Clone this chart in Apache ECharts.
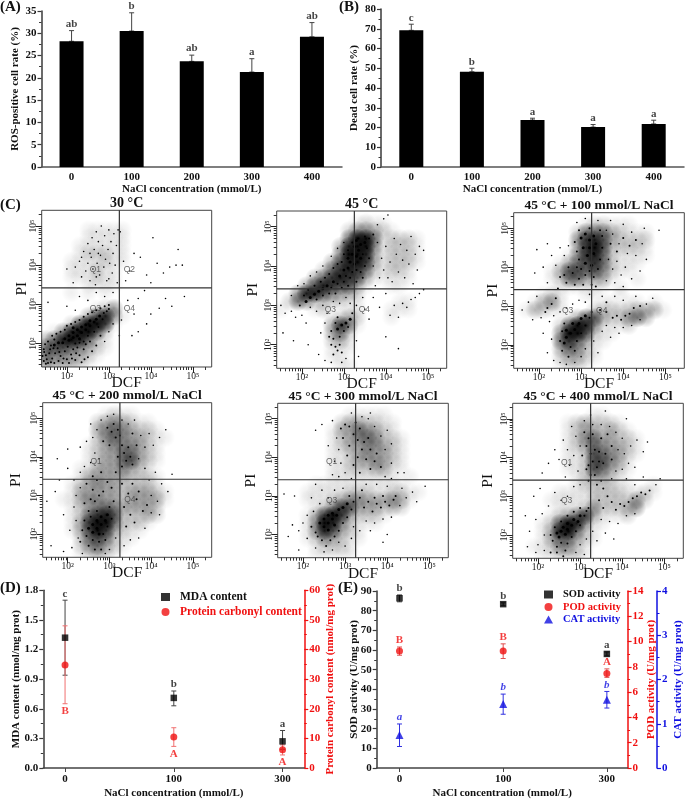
<!DOCTYPE html>
<html><head><meta charset="utf-8">
<style>html,body{margin:0;padding:0;background:#fff}#c{width:685px;height:800px;filter:blur(0.35px)}</style>
<script src="https://cdn.jsdelivr.net/npm/echarts@6/dist/echarts.min.js"></script>
</head><body><div id="c"></div>
<script>
// ---------- Panel A / B ----------
const nacl5 = ['0','100','200','300','400'];
const rosMean = [28.2,30.5,23.7,21.3,29.2];
const rosTop = [30.6,34.6,25.1,24.3,32.4];
const rosLetters = ['ab','b','ab','a','ab'];
const deadMean = [69.2,48.2,23.8,20.2,21.8];
const deadTop = [72.3,50.0,24.7,21.5,23.7];
const deadLetters = ['c','b','a','a','a'];
// ---------- Panel D ----------
const nacl3 = ['0','100','300'];
const mdaMean = [1.32,0.71,0.27], mdaLow = [0.94,0.63,0.19], mdaHigh = [1.70,0.78,0.38];
const mdaLetters = ['c','b','a'];
const pcMean = [34.8,10.5,6.2], pcLow = [21.7,7.3,4.4], pcHigh = [48.0,13.6,7.8];
const pcLetters = ['B','A','A'];
// ---------- Panel E ----------
const sodMean = [86.3,83.3,58.0], sodLow = [84.5,82.5,57.0], sodHigh = [88.0,84.0,59.0];
const sodLetters = ['b','b','a'];
const podMean = [9.26,9.26,7.48], podLow = [8.92,8.66,7.17], podHigh = [9.57,9.82,7.84];
const podLetters = ['B','B','A'];
const catMean = [0.744,1.444,1.54], catLow = [0.486,1.215,1.355], catHigh = [0.995,1.67,1.73];
const catLetters = ['a','b','b'];
// ---------- Panel C: log10(DCF), log10(PI) pairs ----------
const gateX = 3.25, gateY = 3.42;
const decades = [2,3,4,5];
// Estimated event density (0-9): 20 bins across, 20 down, top row first.
const d30 = ["00000000000000000000","00000000000000000000","00000111110000000000","00000111110000000000","00001111110000000000","00001222110000000000","00011112110000000000","00011121100000000000","00011121100000000000","00000111100000000000","00010101000000000000","00000000000000000000","00000012400000000000","00000368410000000000","00026997100000000000","01489962000000000000","35898521000000000000","56654321000000000000","54433210000000000000","43332100000000000000"];
const d45 = ["00000000000000000000","00000000012110000000","00000000244321000000","00000000599512221000","00000003899412221000","00000004998312221000","00000036897312221000","00000257875212210000","00003578763111110000","00036876631001100000","00488643320000000000","02542222110000110000","10001200110001110000","00000012320001000000","00000037510000000000","00000035200000000000","00000023100000000000","00000011100000000000","00000011000000000000","00000001100000000000"];
const d100 = ["00000000000000000000","00000000122111000000","00000002555321110000","00000004786322220000","00000003796222210000","00000014785211110000","00000135675211100000","00001366564211000000","00001255333100100000","00000111111010000000","00012100110010000000","00134100001101101000","01321100022222333100","00000013663224530000","00000269841112000000","00000499621100000000","00000575311000000000","00000354210000000000","00000233210000000000","00000122100000000000"];
const d200 = ["00000000000000000000","00000001211000000000","00000023432110000000","00000034543221000000","00000024543321100000","00000123444321000000","00000123355321000000","00000123356321000000","00001133343210000000","00001333332221000000","00012343322221000000","00013333323332100000","00113443323333100000","00012345433332000000","00012578622232000000","00013799522210000000","00013697321100000000","00002565211000000000","00002453210000000000","00001232100000000000"];
const d300 = ["00000000000000000000","00000000111110000000","00000002332211000000","00000013354321000000","00000012345422100000","00000012334432100000","00000011234332100000","00000011233432100000","00000011222331100000","00000011111111010000","00001111111111100000","00011111222112211000","00011123443334310000","00001247633323200000","00013797322210000000","00014984211100000000","00014863210000000000","00012432110000000000","00001222100000000000","00001111100000000000"];
const d400 = ["00000000000000000000","00000000011000000000","00000012322210000000","00000012332321000000","00000012453322100000","00000012354332100000","00000011265432100000","00000011266431000000","00000011265321000000","00000001233210000000","00000001222211001000","00000111122221121000","00001111122222420000","00000111242223400000","00001235731112000000","00012698411000000000","00013895210000000000","00013553210000000000","00112442100000000000","00011222100000000000"];
const p30Core = [[1.8,2.02],[1.9,2.02],[1.95,2.12],[2.05,2.08],[2.05,2.2],[2.15,2.15],[2.15,2.28],[2.25,2.2],[2.25,2.35],[2.35,2.28],[2.35,2.42],[2.45,2.35],[2.45,2.48],[2.55,2.45],[2.55,2.58],[2.65,2.55],[2.7,2.62],[2.78,2.7],[1.7,1.96],[2.3,2.12],[2.15,2.4]];
const p30Mid = [[1.45,1.55],[1.5,1.7],[1.55,1.5],[1.6,1.85],[1.65,1.62],[1.7,1.5],[1.72,1.75],[1.8,1.55],[1.85,1.68],[1.9,1.5],[1.95,1.8],[2,1.6],[2.05,1.5],[2.1,1.72],[2.15,1.85],[2.2,1.58],[2.3,1.7],[2.35,1.52],[2.4,1.85],[2.5,1.65],[2.6,1.8],[1.45,1.85],[1.48,1.98],[1.55,2.05],[1.62,1.95],[1.7,2.1],[1.42,1.68],[1.78,1.88],[1.52,1.6],[2.25,1.9],[2.45,1.98],[2.7,1.95],[2.55,2.05],[2.8,2.2],[1.65,2.2],[1.75,2.25],[1.85,2.3],[1.95,2.35],[2,2.45],[2.1,2.5],[2.2,2.55],[2.3,2.6],[2.4,2.68],[2.5,2.75],[2.6,2.8],[2.7,2.85],[2.8,2.9],[2.9,2.95],[3,2.98],[2.95,2.82],[2.85,2.62],[2.75,2.42],[2.65,2.3],[2.5,2.2],[2.4,2.05],[2.3,2.02],[2.2,2],[2.88,2.78],[3,2.88],[1.58,1.75],[1.68,1.88],[1.92,1.62],[2.02,1.92],[1.5,1.48],[1.46,1.78],[2.12,1.62],[1.62,1.52],[1.82,1.78],[2.22,1.75],[2.42,1.6]];
const p30Sparse = [[2.0,3.9],[2.15,3.55],[2.2,3.95],[2.3,4.1],[2.35,3.7],[2.4,4.35],[2.45,3.85],[2.5,4.05],[2.5,4.55],[2.55,3.6],[2.58,4.2],[2.6,4.7],[2.62,3.9],[2.65,4.4],[2.68,3.5],[2.7,4.85],[2.72,4.05],[2.75,4.6],[2.78,3.75],[2.8,4.25],[2.82,5.0],[2.85,4.5],[2.88,3.95],[2.9,4.75],[2.92,4.15],[2.95,3.6],[2.98,4.4],[3,4.9],[3.02,4.05],[3.05,4.6],[3.08,3.8],[3.1,4.3],[3.12,4.8],[3.15,4.0],[3.18,4.5],[3.2,3.55],[3.22,4.9],[3.27,4.85],[2.75,4.3],[2.55,4.3],[2.35,4.2],[2.7,3.7],[3,3.65],[3.35,4.1],[3.5,3.85],[3.6,4.3],[3.75,4.2],[3.9,3.75],[4.05,4.7],[4.15,4.05],[4.3,3.8],[4.45,3.95],[4.6,4.0],[4.75,4.0],[4.65,4.4],[4.0,3.55],[3.4,3.6],[3.45,3.1],[3.6,2.75],[3.7,3.15],[3.85,3.35],[3.9,2.5],[4.0,2.75],[4.2,2.9],[4.35,3.15],[4.5,2.95],[4.8,3.2],[3.55,2.2],[3.7,2.3],[2.3,3.2],[2.5,3.1],[2.7,3.3],[2.9,3.2],[2.0,2.95],[1.55,3.05],[2.2,2.85],[3.1,3.3],[3.3,2.6],[3.1,2.5],[3.0,2.3],[2.9,2.05],[3.25,2.2]];
const p45Core = [[2.1,3.1],[2.2,3.2],[2.3,3.28],[2.4,3.36],[2.5,3.42],[2.6,3.5],[2.75,3.6],[2.9,3.75],[3,3.9],[3.1,3.95],[3.15,4.1],[3.25,4.05],[3.2,4.3],[3.3,4.25],[3.35,4.4],[3.25,4.5],[3.4,4.55],[3.5,4.6],[3.1,4.2],[3.4,4.2],[3.3,4.65],[2.85,2.4],[2.95,2.5],[3.05,2.55],[3.15,2.65]];
const p45Mid = [[1.95,3.0],[2.05,3.25],[2.15,3.4],[2.3,3.5],[2.35,3.15],[2.45,3.6],[2.5,3.25],[2.55,3.7],[2.65,3.3],[2.65,3.8],[2.7,3.45],[2.75,3.95],[2.8,3.3],[2.85,4.05],[2.85,3.55],[2.95,3.45],[2.95,4.1],[3,3.6],[3.0,4.3],[3.05,3.75],[3.1,3.5],[3.1,4.4],[3.15,3.7],[3.2,3.85],[3.2,4.6],[3.3,3.6],[3.3,3.9],[3.35,4.7],[3.4,3.85],[3.45,4.3],[3.5,4.0],[3.5,4.75],[3.55,4.45],[3.6,4.7],[3.6,4.2],[3.45,3.7],[3.7,4.8],[2.7,2.35],[2.8,2.55],[2.75,2.15],[2.9,2.2],[2.85,2.7],[3.0,2.35],[3.1,2.45],[3.2,2.8],[2.7,2.0],[2.8,1.95],[2.9,2.0],[2.65,2.2],[2.95,1.8],[2.85,1.85],[2.75,1.75]];
const p45Sparse = [[3.8,4.6],[3.9,4.2],[3.95,3.9],[4.0,4.5],[4.1,4.1],[4.15,3.6],[4.2,4.7],[4.25,4.3],[4.3,3.85],[4.35,4.55],[4.4,4.15],[4.45,3.7],[4.5,4.4],[4.55,4.05],[4.6,4.75],[4.65,3.55],[4.7,4.3],[4.8,4.5],[4.9,4.4],[4.05,3.7],[3.75,3.5],[3.7,4.0],[3.85,3.7],[4.75,3.9],[3.7,3.2],[3.85,2.95],[4.0,3.3],[4.1,2.75],[4.2,3.0],[4.3,2.7],[4.4,3.05],[4.5,2.95],[4.6,3.15],[4.7,3.2],[4.8,3.3],[4.9,3.4],[3.5,2.9],[3.6,2.65],[3.3,3.0],[3.45,3.2],[3.8,5.05],[3.95,5.2],[4.05,5.3],[1.5,3.0],[1.6,2.8],[1.75,2.85],[1.85,2.7],[2.0,2.75],[2.1,2.55],[2.2,2.95],[2.35,2.85],[2.5,3.0],[2.6,2.8],[2.75,3.1],[2.9,3.05],[3.05,3.2],[3.15,3.05],[1.55,2.3],[1.8,2.1],[2.15,2.0],[2.45,2.3],[2.55,2.55],[2.4,1.75],[2.55,1.6],[2.7,1.55],[2.95,1.55],[3.05,1.65],[3.3,2.1],[3.35,1.7],[4.0,2.2],[4.3,1.9],[1.9,3.5],[2.05,3.55],[1.75,3.25],[2.2,3.75],[2.35,3.85],[2.5,4.0],[2.7,4.25],[3.0,4.6],[2.85,4.45]];
const p100Core = [[3.0,4.75],[3.1,4.85],[3.2,4.7],[3.3,4.8],[3.35,4.6],[3.2,4.5],[3.05,4.5],[3.15,4.3],[3.3,4.35],[3.1,4.1],[3.25,4.05],[2.65,2.2],[2.75,2.3],[2.65,2.38],[2.85,2.4],[2.8,2.55],[2.95,2.55],[3.0,2.68],[3.1,2.75],[2.6,2.05]];
const p100Mid = [[2.7,4.0],[2.8,3.85],[2.9,4.0],[2.95,3.7],[3.0,3.95],[3.1,3.8],[3.2,3.9],[3.3,3.75],[2.6,3.8],[2.5,3.75],[2.65,3.6],[2.85,3.55],[3.05,3.55],[3.25,3.55],[3.4,3.95],[3.45,4.2],[3.5,4.5],[3.5,4.8],[3.45,4.95],[2.95,4.95],[3.2,5.0],[2.85,4.65],[2.9,4.4],[2.95,4.2],[2.45,3.45],[3.35,3.5],[2.2,2.95],[2.3,3.05],[2.15,2.85],[2.4,3.2],[2.55,1.85],[2.7,1.7],[2.75,1.95],[2.85,1.85],[2.9,2.1],[3.0,2.3],[3.1,2.5],[3.2,2.7],[3.25,2.85],[2.55,2.35],[2.5,2.1],[2.6,2.55],[3.45,2.9],[3.6,2.85],[3.75,2.7],[3.85,2.75],[3.95,2.65],[4.05,2.75],[4.15,2.8],[4.25,2.95],[4.4,3.0],[3.6,3.1],[3.7,4.6],[3.85,4.4],[4.0,4.75],[4.15,4.55],[4.3,4.7]];
const p100Sparse = [[3.6,4.95],[3.75,4.85],[3.9,4.6],[4.0,5.1],[4.1,4.35],[4.2,4.9],[4.3,4.3],[4.45,4.6],[4.55,4.2],[3.65,4.2],[3.75,3.95],[3.85,4.15],[3.95,3.8],[4.05,4.0],[4.2,3.7],[4.4,3.9],[3.6,3.65],[3.8,3.6],[4.0,3.5],[2.2,3.6],[2.3,4.3],[2.4,4.05],[2.5,4.5],[2.6,4.3],[2.7,4.55],[2.1,4.0],[1.95,4.45],[2.2,4.6],[1.9,3.85],[1.75,3.1],[1.95,3.25],[2.05,2.7],[2.25,2.6],[2.35,2.75],[2.5,2.85],[2.65,2.95],[2.8,3.05],[2.95,3.15],[3.1,3.1],[3.2,3.3],[1.85,2.65],[1.6,2.9],[2.1,2.3],[2.3,2.15],[2.2,1.8],[2.35,1.6],[2.5,1.55],[2.65,1.5],[2.85,1.55],[3.0,1.7],[3.1,1.9],[3.3,2.1],[3.4,1.8],[3.5,2.35],[3.6,2.5],[3.7,2.2],[3.8,2.45],[3.9,2.3],[4.0,2.45],[4.2,2.5],[4.4,2.65],[4.55,3.05],[4.7,3.2],[3.5,3.25],[3.8,3.25],[4.0,3.15],[4.3,3.25],[2.9,5.15],[3.1,5.25],[3.4,5.2],[3.7,5.2],[4.5,5.0],[4.85,4.95]];
const p200Core = [[2.5,2.15],[2.6,2.25],[2.7,2.15],[2.7,2.35],[2.8,2.25],[2.8,2.45],[2.9,2.35],[2.95,2.5],[2.6,2.05],[2.75,2.0]];
const p200Mid = [[2.3,1.8],[2.35,2.1],[2.4,2.35],[2.45,1.95],[2.5,1.7],[2.55,2.45],[2.6,1.85],[2.65,1.6],[2.7,2.6],[2.75,1.8],[2.8,1.6],[2.85,2.0],[2.9,1.85],[2.95,2.2],[3.0,2.7],[3.05,2.4],[3.1,2.85],[2.5,2.6],[2.4,2.8],[2.55,2.9],[2.65,2.85],[2.75,3.0],[2.85,3.1],[2.6,3.15],[2.45,3.3],[2.6,3.5],[2.7,3.4],[2.8,3.6],[2.95,3.35],[3.05,3.2],[3.15,3.6],[3.3,3.75],[3.4,3.9],[3.5,4.0],[3.35,4.1],[3.45,4.25],[3.3,4.3],[3.55,3.8],[3.2,4.0],[3.15,4.5],[3.05,4.65],[2.95,4.75],[3.1,4.85],[3.2,4.7],[3.25,4.55],[2.85,4.4],[3.0,4.3],[3.3,3.3],[3.45,3.05],[3.55,3.3],[3.65,2.9],[3.7,3.1],[3.8,2.6],[3.9,2.75],[3.5,2.5],[3.6,2.3],[3.35,2.7],[3.4,2.2],[3.55,4.6],[3.65,4.3]];
const p200Sparse = [[1.9,2.5],[2.05,2.1],[2.15,2.7],[2.2,2.35],[2.25,1.9],[2.1,1.65],[2.2,3.0],[2.3,3.2],[2.15,3.4],[2.3,3.6],[2.4,3.75],[2.55,3.85],[2.65,4.1],[2.75,3.95],[2.6,4.5],[2.7,4.7],[2.8,4.95],[2.55,4.85],[2.95,5.05],[3.1,5.1],[3.3,4.95],[3.45,4.85],[3.6,4.95],[3.75,4.55],[3.85,4.25],[3.95,4.6],[4.05,4.3],[4.2,4.5],[4.35,4.7],[3.7,3.95],[3.85,3.7],[3.95,3.4],[4.1,3.6],[4.25,3.3],[4.4,3.1],[4.5,3.55],[4.0,3.0],[4.15,2.85],[4.0,2.55],[4.2,2.5],[3.85,2.15],[3.7,1.9],[3.5,1.85],[3.35,1.7],[3.15,1.9],[3.0,1.6],[1.7,3.1],[1.5,2.85],[1.8,3.4],[2.0,3.7],[1.75,3.95],[2.0,4.2],[2.3,4.25],[2.45,4.4],[1.6,1.7],[1.9,1.55],[2.35,1.5],[2.9,1.5]];
const p300Core = [[2.4,2.3],[2.5,2.2],[2.5,2.4],[2.6,2.3],[2.6,2.12],[2.7,2.4],[2.7,2.55],[2.8,2.5],[2.85,2.65],[2.95,2.7],[3.05,2.8],[2.6,2.5],[2.75,2.25]];
const p300Mid = [[2.2,2.2],[2.3,2.05],[2.35,1.95],[2.45,1.85],[2.55,1.7],[2.65,1.85],[2.75,1.95],[2.85,2.1],[2.95,2.3],[3.05,2.45],[3.15,2.65],[3.2,2.85],[3.1,3.0],[3.35,2.95],[3.45,2.7],[3.55,2.85],[3.65,2.6],[3.75,2.8],[3.85,2.7],[3.95,2.85],[4.05,2.75],[4.15,2.9],[4.2,3.0],[3.9,3.0],[3.7,2.95],[3.4,3.15],[3.25,4.9],[3.1,4.8],[3.0,4.85],[2.9,4.75],[3.2,4.6],[3.35,4.75],[3.3,4.45],[3.45,4.4],[3.55,4.5],[3.4,4.2],[3.6,4.2],[3.3,4.0],[3.5,3.95],[3.7,3.9],[3.6,3.7],[3.85,3.75],[3.2,3.8],[3.1,4.3],[2.95,4.5],[3.35,3.6],[3.75,4.1],[3.05,4.05]];
const p300Sparse = [[2.7,4.95],[2.8,4.5],[2.85,4.2],[2.75,3.9],[2.6,4.3],[2.45,4.85],[2.3,4.7],[2.9,3.85],[3.0,3.6],[2.95,3.2],[2.85,3.5],[2.7,3.55],[3.15,3.45],[3.4,5.05],[3.55,5.0],[3.7,4.8],[3.85,4.55],[4.0,4.7],[4.1,4.35],[3.95,4.2],[4.1,3.85],[4.25,3.6],[4.1,3.45],[3.95,3.5],[4.4,3.6],[3.6,5.15],[3.15,5.15],[3.5,3.3],[3.75,3.3],[4.0,3.25],[4.35,3.2],[4.6,3.1],[4.3,2.75],[4.45,2.95],[4.1,2.45],[3.9,2.4],[3.7,2.3],[3.5,2.35],[3.6,2.1],[3.35,2.1],[3.2,2.2],[3.15,1.9],[3.0,1.7],[2.85,1.8],[2.7,1.6],[2.5,1.55],[2.3,1.65],[2.1,1.9],[2.0,2.3],[2.1,2.5],[1.9,2.1],[1.75,2.25],[2.25,2.6],[2.4,2.8],[2.6,2.95],[2.2,2.95],[2.45,3.15],[2.3,3.3],[2.75,3.15],[1.8,3.0],[1.55,3.05],[1.65,1.95],[1.9,1.6],[3.9,1.8],[4.0,2.0],[4.9,3.25],[4.7,2.85]];
const p400Core = [[2.45,2.05],[2.55,2.1],[2.6,2.2],[2.7,2.15],[2.7,2.3],[2.8,2.25],[2.85,2.4],[2.95,2.35],[3.0,2.5],[2.5,1.95],[2.65,2.02]];
const p400Mid = [[2.3,2.0],[2.35,1.85],[2.4,2.2],[2.45,1.7],[2.55,1.8],[2.65,1.6],[2.7,1.78],[2.8,1.95],[2.9,2.1],[3.0,2.25],[3.1,2.5],[3.15,2.62],[3.2,2.7],[2.55,2.35],[2.7,2.5],[2.85,2.6],[3.0,2.7],[2.3,1.55],[2.6,1.45],[2.45,1.55],[3.2,3.8],[3.3,3.9],[3.4,3.75],[3.25,3.55],[3.35,3.55],[3.45,3.9],[3.55,3.85],[3.25,4.1],[3.35,4.2],[3.45,4.15],[3.6,4.1],[3.15,4.3],[3.2,4.5],[3.1,4.65],[3.3,4.6],[3.5,4.5],[3.65,4.6],[3.75,4.3],[3.75,3.95],[3.05,4.05],[3.15,3.7],[3.2,3.4],[3.4,3.3],[3.5,3.4],[3.55,3.2],[3.65,3.0],[3.75,2.85],[3.85,2.65],[3.95,2.8],[4.05,2.75],[4.15,2.85],[4.25,2.95],[4.35,3.0],[4.45,3.1],[4.55,3.05],[4.65,3.15],[3.45,2.9],[3.55,2.7]];
const p400Sparse = [[2.8,4.8],[2.9,4.55],[3.0,4.3],[2.85,4.05],[2.75,3.8],[2.95,3.65],[2.65,3.5],[2.5,3.95],[2.4,4.2],[2.25,3.85],[2.1,3.6],[2.6,4.45],[2.7,4.2],[3.0,3.3],[2.85,3.25],[2.7,3.0],[2.55,2.9],[2.4,3.1],[2.25,2.75],[2.1,2.55],[1.95,2.4],[1.8,2.1],[1.7,2.5],[1.9,3.0],[2.05,3.2],[3.1,4.95],[3.3,4.85],[3.5,4.85],[3.7,4.8],[3.85,4.65],[4.0,4.5],[3.9,4.2],[4.05,4.1],[4.2,4.3],[4.35,4.45],[4.5,4.15],[4.15,3.85],[4.3,3.75],[4.0,3.7],[3.85,3.65],[3.75,3.45],[4.1,3.45],[4.3,3.3],[4.5,3.5],[4.8,3.3],[4.9,3.45],[3.5,2.4],[3.7,2.35],[3.9,2.3],[4.1,2.5],[4.3,2.55],[3.6,2.05],[3.8,1.9],[3.4,1.85],[3.3,2.1],[3.15,1.9],[3.0,1.75],[2.9,1.55],[3.1,1.5],[2.15,2.0],[2.0,1.75],[2.15,1.6],[1.95,1.55],[1.75,1.7],[3.25,5.1],[3.6,5.2],[4.1,5.0],[4.6,4.4]];

const facs = [
 {title:'30 °C', box:[41.7,210.3,211.7,367], density:d30, core:p30Core, mid:p30Mid, sparse:p30Sparse, q:[1,1,1,1], piGap:12},
 {title:'45 °C', box:[276.7,211,446.7,368.3], density:d45, core:p45Core, mid:p45Mid, sparse:p45Sparse, q:[0,0,1,1], piGap:16},
 {title:'45 °C + 100 mmol/L NaCl', box:[513.7,212.7,684.3,368.3], density:d100, core:p100Core, mid:p100Mid, sparse:p100Sparse, q:[0,0,1,1], piGap:13},
 {title:'45 °C + 200 mmol/L NaCl', box:[42.7,402.7,211.7,557.3], density:d200, core:p200Core, mid:p200Mid, sparse:p200Sparse, q:[1,0,0,1], piGap:19},
 {title:'45 °C + 300 mmol/L NaCl', box:[277.7,403.3,448.3,557.7], density:d300, core:p300Core, mid:p300Mid, sparse:p300Sparse, q:[1,0,1,0], piGap:19},
 {title:'45 °C + 400 mmol/L NaCl', box:[512.7,403.3,683.3,558.3], density:d400, core:p400Core, mid:p400Mid, sparse:p400Sparse, q:[1,0,1,0], piGap:17}
];
const qLabels = [['Q1',2.68,3.88],['Q2',3.49,3.88],['Q3',2.68,2.88],['Q4',3.49,2.88]];

// ---------- option builders ----------
const SERIF = '"Liberation Serif","Times New Roman",serif';
const DARK = '#3a3a3a', RED = '#f01010', BLUE = '#1010e0';
const grid = [], xAxis = [], yAxis = [], series = [], title = [];
const lab = (c,s=11)=>({color:c,fontFamily:SERIF,fontWeight:'bold',fontSize:s});

function valY(gi,min,max,interval,color,extra){
  yAxis.push(Object.assign({type:'value',gridIndex:gi,min,max,interval,nameMoveOverlap:false,
    axisLine:{show:true,onZero:false,lineStyle:{color,width:1.5}},
    axisTick:{show:true,length:4,lineStyle:{color,width:1.2}},
    minorTick:{show:true,splitNumber:2,length:2.5,lineStyle:{color}},
    splitLine:{show:false},
    axisLabel:Object.assign(lab(color==DARK?'#111':color),{margin:5}),
    nameLocation:'middle',nameRotate:90,nameTextStyle:lab(color==DARK?'#111':color,11)},extra));
  return yAxis.length-1;
}
function errBars(name,xi,yi,rows,color,capHalf){
  series.push({name,type:'custom',xAxisIndex:xi,yAxisIndex:yi,data:rows,silent:true,
    renderItem:(p,api)=>{
      const x=api.value(0),a=api.coord([x,api.value(1)]),b=api.coord([x,api.value(2)]);
      const st={stroke:color,lineWidth:1};
      return {type:'group',children:[
        {type:'line',shape:{x1:a[0],y1:a[1],x2:b[0],y2:b[1]},style:st},
        {type:'line',shape:{x1:a[0]-capHalf,y1:a[1],x2:a[0]+capHalf,y2:a[1]},style:st},
        {type:'line',shape:{x1:b[0]-capHalf,y1:b[1],x2:b[0]+capHalf,y2:b[1]},style:st}]};
    }});
}
function letters(xi,yi,anchors,txt,color,pos,italic,dist){
  series.push({type:'scatter',xAxisIndex:xi,yAxisIndex:yi,symbolSize:0,silent:true,z:5,
    data:anchors.map((v,i)=>({value:[i,v],label:{formatter:txt[i]}})),
    label:{show:true,position:pos,distance:dist||1,color,fontFamily:SERIF,fontWeight:'bold',fontSize:11,fontStyle:italic?'italic':'normal'}});
}
function barPanel(px,ymax,interval,yName,mean,top,txt,nameGap){
  const gi=grid.length;
  grid.push({left:px[0],top:px[1],width:px[2]-px[0],height:px[3]-px[1]});
  const xi=xAxis.length;
  xAxis.push({type:'category',gridIndex:gi,data:nacl5,
    axisLine:{lineStyle:{color:'#555',width:1.5}},axisTick:{alignWithLabel:true,length:3,lineStyle:{color:'#555'}},
    axisLabel:Object.assign(lab('#111'),{margin:5}),
    name:'NaCl concentration (mmol/L)',nameLocation:'middle',nameGap:15,nameTextStyle:lab('#111')});
  const yi=valY(gi,0,ymax,interval,DARK,{name:yName,nameGap});
  series.push({type:'bar',xAxisIndex:xi,yAxisIndex:yi,data:mean,barWidth:24,itemStyle:{color:'#000'},silent:true});
  errBars('err',xi,yi,mean.map((m,i)=>[i,m,top[i]]),'#444',2.5);
  letters(xi,yi,top,txt,'#111','top');
}
function pointX(gi,min,max,labels,nameText){
  xAxis.push({type:'value',gridIndex:gi,min,max,
    axisLine:{onZero:false,lineStyle:{color:'#444',width:1.5}},
    axisTick:{customValues:[0,1,2],length:4,lineStyle:{color:'#444'}},
    axisLabel:Object.assign(lab('#111'),{customValues:[0,1,2],margin:6,formatter:v=>labels[v]}),
    splitLine:{show:false},
    name:nameText,nameLocation:'middle',nameGap:20,nameTextStyle:lab('#111')});
  return xAxis.length-1;
}
function pts(name,xi,yi,vals,sym,size,color){
  series.push({name,type:'scatter',xAxisIndex:xi,yAxisIndex:yi,symbol:sym,symbolSize:size,z:4,silent:true,
    itemStyle:{color},data:vals.map((v,i)=>[i,v])});
}
const rows=(m,l,h)=>m.map((_,i)=>[i,l[i],h[i]]);

// A, B
barPanel([41.5,11,342,167],35,5,'ROS-positive cell rate (%)',rosMean,rosTop,rosLetters,20.5);
barPanel([381,9,684,167],80,10,'Dead cell rate (%)',deadMean,deadTop,deadLetters,21);

// C
const minor = [];
decades.concat([1]).forEach(d=>[2,3,4,5,6,7,8,9].forEach(k=>{const v=d+Math.log10(k); if(v>1.4&&v<5.4)minor.push(v);}));
const splatFill = d => { const a=Math.pow(d/9,1.25);
  return new echarts.graphic.RadialGradient(0.5,0.5,0.5,[
    {offset:0,color:`rgba(0,0,0,${a})`},{offset:0.5,color:`rgba(0,0,0,${a*0.6})`},{offset:1,color:'rgba(0,0,0,0)'}]); };
facs.forEach((f,i)=>{
  const gi=grid.length;
  const [l,t,r,b]=f.box;
  grid.push({left:l,top:t,width:r-l,height:b-t,show:true,backgroundColor:'transparent',borderColor:'#444',borderWidth:1});
  const axBase={gridIndex:gi,type:'value',splitLine:{show:false},axisLine:{show:false,onZero:false},nameMoveOverlap:false};
  const sup={2:'10²',3:'10³',4:'10⁴',5:'10⁵'};
  const xMinor=xAxis.length;
  xAxis.push(Object.assign({},axBase,{min:1.4,max:5.45,position:'bottom',
    axisTick:{customValues:minor,length:3,lineStyle:{color:'#333'}},axisLabel:{show:false}}));
  xAxis.push(Object.assign({},axBase,{min:1.4,max:5.45,position:'bottom',
    axisTick:{customValues:decades,length:6,lineStyle:{color:'#222'}},
    axisLabel:{customValues:decades,formatter:v=>sup[v],margin:4,color:'#222',fontFamily:'"Liberation Serif"',fontSize:9.5},
    name:'DCF',nameLocation:'middle',nameGap:8,nameTextStyle:{fontFamily:SERIF,fontSize:15.5,color:'#111',verticalAlign:'top'}}));
  const yMinor=yAxis.length;
  yAxis.push(Object.assign({},axBase,{min:1.4,max:5.4,position:'left',
    axisTick:{customValues:minor,length:3,lineStyle:{color:'#333'}},axisLabel:{show:false}}));
  yAxis.push(Object.assign({},axBase,{min:1.4,max:5.4,position:'left',
    axisTick:{customValues:decades,length:6,lineStyle:{color:'#222'}},
    axisLabel:{customValues:decades,rotate:90,formatter:v=>sup[v],margin:3,color:'#222',fontFamily:'"Liberation Serif"',fontSize:9.5},
    name:'PI',nameLocation:'middle',nameRotate:90,nameGap:f.piGap,nameTextStyle:{fontFamily:SERIF,fontSize:15.5,color:'#111'}}));
  const xi=xMinor+1, yi=yMinor+1;
  // density layer: one soft splat per bin, placed through the axes and clipped to the plot box
  const binW=(5.45-1.4)/20, binH=(5.4-1.4)/20, cells=[];
  f.density.forEach((row,ry)=>[...row].forEach((ch,cx)=>{
    if(+ch) cells.push([1.4+(cx+.5)*binW,5.4-(ry+.5)*binH,+ch]);
  }));
  series.push({type:'custom',xAxisIndex:xi,yAxisIndex:yi,data:cells,silent:true,clip:true,z:1,
    renderItem:(p,api)=>{const c=api.coord([api.value(0),api.value(1)]);
      return {type:'circle',shape:{cx:c[0],cy:c[1],r:10},style:{fill:splatFill(api.value(2))}};}});
  [[f.sparse,1.6,'#000',1],[f.mid,2,'#000',1],[f.core,3,'#000',1]].forEach(([d,s,c,o])=>{
    series.push({type:'scatter',xAxisIndex:xi,yAxisIndex:yi,data:d,symbolSize:s,silent:true,z:2,itemStyle:{color:c,opacity:o}});
  });
  const gateLine={type:'line',xAxisIndex:xi,yAxisIndex:yi,symbol:'none',silent:true,lineStyle:{color:'#333',width:1.2},z:6};
  series.push(Object.assign({},gateLine,{data:[[gateX,1.4],[gateX,5.4]]}));
  series.push(Object.assign({},gateLine,{data:[[1.4,gateY],[5.45,gateY]]}));
  const shown=qLabels.filter((q,j)=>f.q[j]);
  series.push({type:'scatter',xAxisIndex:xi,yAxisIndex:yi,symbolSize:0,silent:true,z:7,
    data:shown.map(q=>({value:[q[1],q[2]],label:{formatter:q[0]}})),
    label:{show:true,position:'inside',color:'#444',fontFamily:'"Liberation Sans"',fontSize:8.5}});
  title.push({text:f.title,left:(l+r)/2,top:t-14,textAlign:'center',padding:0,
    textStyle:{fontFamily:SERIF,fontWeight:'bold',fontSize:i==0||i==1?14:13.5,color:'#111'}});
});

// D
{
  const gi=grid.length;
  grid.push({left:43.3,top:590.3,width:261,height:181.7});
  const xi=pointX(gi,-0.2,2.2,nacl3,'NaCl concentration (mmol/L)');
  const yL=valY(gi,0,1.8,0.3,DARK,{name:'MDA content (nmol/mg prot)',nameGap:21.5,axisLabel:Object.assign(lab('#111'),{margin:5,formatter:v=>v.toFixed(1)})});
  const yR=valY(gi,0,60,10,RED,{name:'Protein carbonyl content (nmol/mg prot)',nameGap:20,position:'right'});
  errBars('e1',xi,yL,rows(mdaMean,mdaLow,mdaHigh),'#444',2.5);
  errBars('e2',xi,yR,rows(pcMean,pcLow,pcHigh),'#f07070',2.5);
  pts('MDA content',xi,yL,mdaMean,'rect',6.5,'#000');
  pts('Protein carbonyl content',xi,yR,pcMean,'circle',7,RED);
  letters(xi,yL,mdaHigh,mdaLetters,'#111','top');
  letters(xi,yR,pcLow,pcLetters,RED,'bottom',false,2);
}
// E
{
  const gi=grid.length;
  grid.push({left:376.7,top:591,width:256.6,height:181});
  const xi=pointX(gi,-0.22,2.2,nacl3,'NaCl concentration (mmol/L)');
  const yS=valY(gi,0,90,10,DARK,{name:'SOD activity (U/mg prot)',nameGap:17});
  const yP=valY(gi,0,14,2,RED,{name:'POD activity (U/mg prot)',nameGap:18,position:'right'});
  const yC=valY(gi,0,4,1,BLUE,{name:'CAT activity (U/mg prot)',nameGap:16,position:'right',offset:29.4});
  errBars('e3',xi,yS,rows(sodMean,sodLow,sodHigh),'#444',2.5);
  errBars('e4',xi,yP,rows(podMean,podLow,podHigh),'#e05050',2.5);
  errBars('e5',xi,yC,rows(catMean,catLow,catHigh),'#3030e0',2.5);
  pts('SOD activity',xi,yS,sodMean,'rect',6.5,'#000');
  pts('POD activity',xi,yP,podMean,'circle',7,RED);
  pts('CAT activity',xi,yC,catMean,'triangle',8,BLUE);
  letters(xi,yS,sodHigh,sodLetters,'#111','top');
  letters(xi,yP,podHigh,podLetters,RED,'top');
  letters(xi,yC,catHigh,catLetters,BLUE,'top',true);
}
// panel tags
[['(A)',0,0],['(B)',339,0],['(C)',0,198],['(D)',0,581],['(E)',338,581]].forEach(p=>title.push({text:p[0],left:p[1],top:p[2],padding:0,
  textStyle:{fontFamily:SERIF,fontWeight:'bold',fontSize:15,color:'#111'}}));

const legendText=(n,c,s)=>({name:n,textStyle:{color:c,fontFamily:SERIF,fontWeight:'bold',fontSize:s,padding:[0,0,0,5]}});
const option={animation:false,backgroundColor:'#fff',grid,xAxis,yAxis,series,title,
  legend:[
    {left:161,top:591,orient:'vertical',itemWidth:9,itemHeight:8,itemGap:3,padding:0,selectedMode:false,
     data:[legendText('MDA content','#111',11.5),legendText('Protein carbonyl content',RED,11.5)]},
    {left:544,top:589,orient:'vertical',itemWidth:9,itemHeight:8,itemGap:1.5,padding:0,selectedMode:false,
     data:[legendText('SOD activity','#111',10.5),legendText('POD activity',RED,10.5),legendText('CAT activity',BLUE,10.5)]}
  ]};
echarts.init(document.getElementById('c'),null,{renderer:'canvas',width:685,height:800}).setOption(option);
</script></body></html>
